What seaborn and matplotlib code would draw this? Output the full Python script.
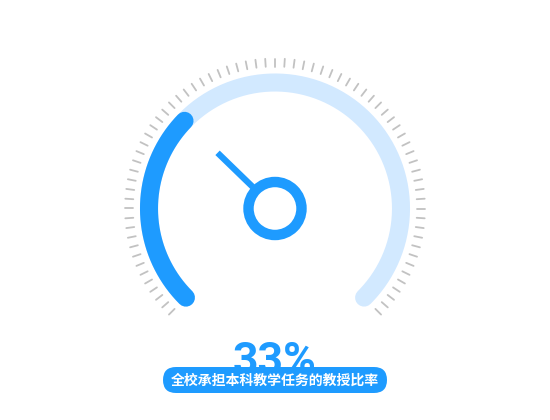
import numpy as np
import pandas as pd
import matplotlib
matplotlib.use("Agg")
import matplotlib.pyplot as plt
from matplotlib.patches import FancyBboxPatch, Circle
import seaborn as sns

# ---- data ----
value = [33]
gauge_min = [0]
gauge_max = [100]
tick_count = [73]
label = ["全校承担本科教学任务的教授比率"]
value_text = ["33%"]

BLUE = "#1E9BFF"
LIGHT = "#D2E9FF"
GRAY = "#C2C2C2"

sns.set_theme(style="white")
plt.rcParams["font.family"] = ["Noto Sans CJK SC", "DejaVu Sans"]

fig = plt.figure(figsize=(5.5, 4.2), dpi=100)
ax = fig.add_axes([0, 0, 1, 1])
ax.set_xlim(0, 550)
ax.set_ylim(420, 0)
ax.set_aspect("equal")
ax.axis("off")

cx, cy = 275, 208.5
R = 126
start, end = 225.0, -45.0

def ang(v):
    return start + (end - start) * (v - gauge_min[0]) / (gauge_max[0] - gauge_min[0])

def arc(a0, a1, r=R, n=200):
    t = np.radians(np.linspace(a0, a1, n))
    return pd.DataFrame({"x": cx + r * np.cos(t), "y": cy - r * np.sin(t)})

# background arc
bg = arc(start, end)
sns.lineplot(data=bg, x="x", y="y", sort=False, ax=ax, color=LIGHT,
             linewidth=13, solid_capstyle="round")
# progress arc
pr = arc(start, ang(value[0]))
sns.lineplot(data=pr, x="x", y="y", sort=False, ax=ax, color=BLUE,
             linewidth=13, solid_capstyle="round")

# ticks
for a in np.linspace(start, end, tick_count[0]):
    t = np.radians(a)
    ax.plot([cx + 142 * np.cos(t), cx + 150 * np.cos(t)],
            [cy - 142 * np.sin(t), cy - 150 * np.sin(t)],
            color=GRAY, linewidth=1.3)

# pointer
pa = np.radians(ang(value[0]))
ax.plot([cx + 31 * np.cos(pa), cx + 80 * np.cos(pa)],
        [cy - 31 * np.sin(pa), cy - 80 * np.sin(pa)],
        color=BLUE, linewidth=4.5, solid_capstyle="butt")
ax.add_patch(Circle((cx, cy), 26.5, fill=False, edgecolor=BLUE, linewidth=7.5))

# value text
ax.text(cx, 362, value_text[0], ha="center", va="center", color=BLUE,
        fontsize=32, fontweight="bold", family=["Roboto", "DejaVu Sans"], zorder=3)

# label pill
ax.add_patch(FancyBboxPatch((163, 367), 224, 26,
                            boxstyle="round,pad=0,rounding_size=13",
                            facecolor=BLUE, edgecolor="none", zorder=4))
ax.text(275, 380.5, label[0], ha="center", va="center", color="white",
        fontsize=10, fontweight="bold", zorder=5,
        family=["Noto Sans CJK SC", "DejaVu Sans"])

fig.savefig("out.png", dpi=100, facecolor="white")
